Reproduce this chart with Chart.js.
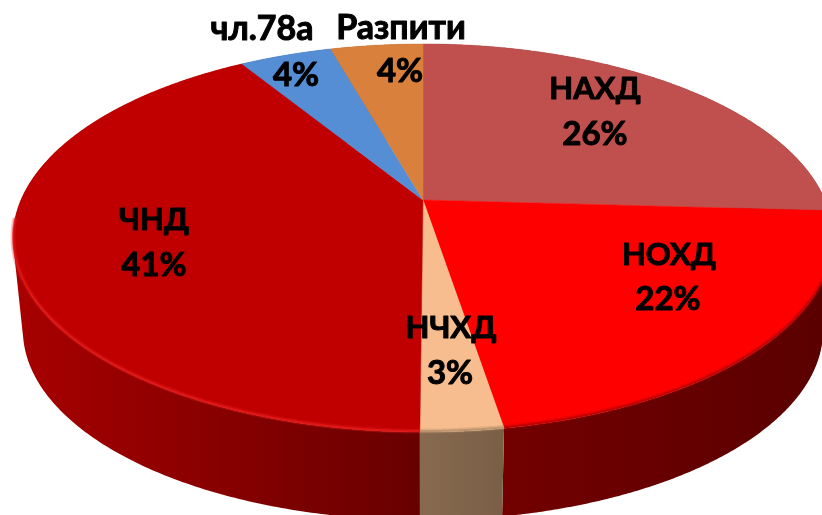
<!DOCTYPE html>
<html><head><meta charset="utf-8">
<style>html,body{margin:0;padding:0;background:#fff}canvas{display:block}</style>
<script src="https://cdn.jsdelivr.net/npm/chart.js@4"></script>
</head><body><div style="width:822px;height:515px"><canvas id="c" width="822" height="515"></canvas></div>
<script>
const categories = ['НАХД','НОХД','НЧХД','ЧНД','чл.78а','Разпити'];
const shares = [25.9,21.5,2.7,41.1,4.4,4.4];
const percentLabels = ['26%','22%','3%','41%','4%','4%'];
const topColors = ['#c0504d','#ff0000','#f7bd8e','#c00000','#558ed5','#d9803c'];
const wallLeft  = ['#5a2a28','#720000','#876a4e','#a80000','#2f4f77','#7a4a22'];
const wallRight = ['#5a2a28','#5a0000','#7a5f47','#680000','#2f4f77','#7a4a22'];
const rimColors = ['#8a3a38','rgba(150,0,0,.6)','rgba(170,135,100,.8)','rgba(235,30,30,.75)','#558ed5','#d9803c'];
const nameSizes = [31,31,31,31,34,34];

// view of the disc: perspective mapping of the library's circle onto the page
const view = {cx:423, cy:200, a:186.6, b:402, k:-0.196, midY:238, depth:92, sx:0.976, sy:0.98};
const textAt = [
  {name:[595,89], pct:[595,134]},
  {name:[669,255], pct:[668,299]},
  {name:[451,328], pct:[450,373]},
  {name:[154,220], pct:[154,265]},
  {name:[262,29], pct:[296,75]},
  {name:[401,28], pct:[400,71]}
];
function proj(th){
  const u=Math.cos(th), v=Math.sin(th), w=1+view.k*v;
  return [view.cx+view.b*u/w, view.cy+view.a*v/w];
}
function low(th){
  const p=proj(th);
  return [view.cx+view.sx*(p[0]-view.cx), view.midY+view.depth+view.sy*(p[1]-view.midY)];
}
const disc3d = {
  id:'disc3d',
  beforeDatasetDraw(chart){
    const ctx=chart.ctx, arcs=chart.getDatasetMeta(0).data;
    const N=240;
    // walls, one path of thin quads between upper and lower rim
    arcs.forEach((el,i)=>{
      const a0=el.startAngle, a1=el.endAngle;
      let minX=1e9,maxX=-1e9;
      for(let s=0;s<=N;s++){const p=proj(a0+(a1-a0)*s/N); minX=Math.min(minX,p[0]); maxX=Math.max(maxX,p[0]);}
      const grad=ctx.createLinearGradient(minX,0,maxX,0);
      grad.addColorStop(0,wallLeft[i]); grad.addColorStop(1,wallRight[i]);
      ctx.fillStyle=grad;
      ctx.beginPath();
      for(let s=0;s<N;s++){
        const t0=a0+(a1-a0)*s/N, t1=a0+(a1-a0)*(s+1)/N;
        let A=proj(t0),B=proj(t1),C=low(t1),D=low(t0);
        const area=(B[0]-A[0])*(C[1]-A[1])-(B[1]-A[1])*(C[0]-A[0]);
        if(area<0){[A,B,C,D]=[B,A,D,C];}
        ctx.moveTo(A[0],A[1]);ctx.lineTo(B[0],B[1]);ctx.lineTo(C[0],C[1]);ctx.lineTo(D[0],D[1]);ctx.closePath();
      }
      ctx.fill();
    });
    // top faces
    arcs.forEach((el,i)=>{
      const a0=el.startAngle, a1=el.endAngle;
      ctx.fillStyle=topColors[i];
      ctx.strokeStyle=topColors[i]; ctx.lineWidth=.5;
      ctx.beginPath(); ctx.moveTo(view.cx,view.cy);
      for(let s=0;s<=N;s++){const p=proj(a0+(a1-a0)*s/N); ctx.lineTo(p[0],p[1]);}
      ctx.closePath(); ctx.fill(); ctx.stroke();
    });
    // soft rim along the front edge
    arcs.forEach((el,i)=>{
      const a0=Math.max(el.startAngle,0.1), a1=Math.min(el.endAngle,Math.PI-0.1);
      if(a1<=a0) return;
      ctx.save();
      ctx.beginPath();
      for(let s=0;s<=N;s++){const p=proj(a0+(a1-a0)*s/N); s?ctx.lineTo(p[0],p[1]-1):ctx.moveTo(p[0],p[1]-1);}
      ctx.strokeStyle=rimColors[i]; ctx.globalAlpha=.35; ctx.lineWidth=5; ctx.stroke();
      ctx.globalAlpha=.8; ctx.lineWidth=2; ctx.stroke();
      ctx.restore();
    });
    return false;
  },
  afterDatasetsDraw(chart){
    const ctx=chart.ctx;
    ctx.save();
    ctx.fillStyle='#000'; ctx.strokeStyle='#000'; ctx.lineWidth=1; ctx.lineJoin='round';
    ctx.textAlign='center'; ctx.textBaseline='middle';
    const put=(t,p,size)=>{ctx.font='bold '+size+'px Lato, "Open Sans", sans-serif';ctx.fillText(t,p[0],p[1]);ctx.strokeText(t,p[0],p[1]);};
    categories.forEach((c,i)=>{
      put(c,textAt[i].name,nameSizes[i]);
      put(percentLabels[i],textAt[i].pct,33);
    });
    ctx.restore();
  }
};
new Chart(document.getElementById('c'),{
  type:'pie',
  data:{labels:categories,datasets:[{data:shares,backgroundColor:topColors,borderWidth:0}]},
  options:{responsive:false,animation:false,events:[],
    plugins:{legend:{display:false},tooltip:{enabled:false}}},
  plugins:[disc3d]
});
</script></body></html>
